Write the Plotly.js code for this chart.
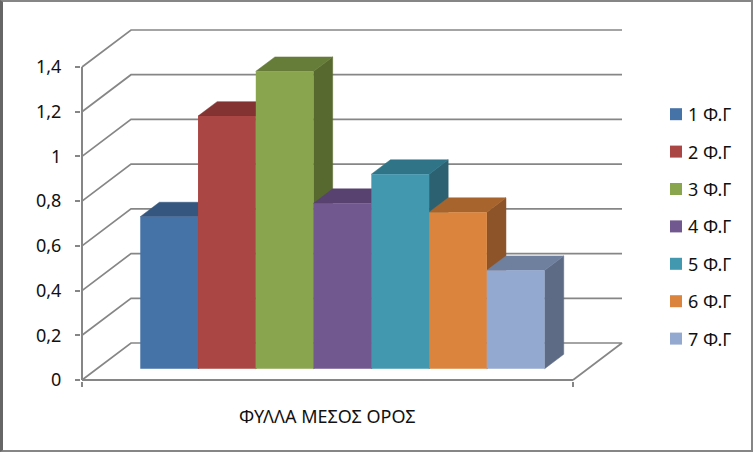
<!DOCTYPE html>
<html>
<head>
<meta charset="utf-8">
<script src="https://cdn.plot.ly/plotly-3.0.1.min.js"></script>
<style>
html,body{margin:0;padding:0;background:#fff;}
#wrap{position:relative;width:753px;height:452px;overflow:hidden;}
#chart{position:absolute;left:0;top:0;width:753px;height:452px;}
#frame{position:absolute;left:0;top:0;width:753px;height:452px;box-sizing:border-box;border:2px solid #868686;border-left:3px solid #666;pointer-events:none;}
</style>
</head>
<body>
<div id="wrap"><div id="chart"></div><div id="frame"></div></div>
<script>
const categories = ['1 Φ.Γ','2 Φ.Γ','3 Φ.Γ','4 Φ.Γ','5 Φ.Γ','6 Φ.Γ','7 Φ.Γ'];
const values = [0.68, 1.13, 1.33, 0.74, 0.87, 0.70, 0.44];
const tickValues = [0,0.2,0.4,0.6,0.8,1,1.2,1.4];
const tickLabels = ['0','0,2','0,4','0,6','0,8','1','1,2','1,4'];
const axisTitle = 'ΦΥΛΛΑ ΜΕΣΟΣ ΟΡΟΣ';
const frontColors = ['#4572A7','#AA4643','#89A54E','#71588F','#4198AF','#DB843D','#93A9CF'];
const topColors   = ['#34567F','#833331','#667C39','#58426F','#2F7487','#A7642D','#6F809E'];
const sideColors  = ['#2C4A6E','#6F2B2A','#58692F','#49375E','#2B6170','#8C5428','#5E6B85'];

const FONT = '"Noto Sans", sans-serif';
const GRID = '#868686';
const U = 57.76, V = 223.6;                    // px per x unit / per value unit
const xMax = 8.5, yMax = 1.4, gap = 0.75;
const depthX = 49/U, depthY = 37/V;            // floor depth in axis units
const d0 = 0.305, d1 = 0.695;                  // bar position in the depth
const px = (x,d)=> x + d*depthX;
const py = (v,d)=> v + d*depthY;

const traces = [];
const wall = (xs, ys, w)=>({type:'scatter',mode:'lines',x:xs,y:ys,showlegend:false,hoverinfo:'skip',
  line:{color:GRID,width:w||1.7},zorder:0});
tickValues.forEach(v=>{
  if(v===0) traces.push(wall([px(0,0),px(0,1),px(xMax,1),px(xMax,0)],[py(0,0),py(0,1),py(0,1),py(0,0)]));
  else traces.push(wall([px(0,0),px(0,1),px(xMax,1)],[py(v,0),py(v,1),py(v,1)]));
});
// axis lines
traces.push(wall([0,0],[0,yMax],2));
traces.push(wall([0,xMax],[0,0],2));
// bars: side, top, then front, painted left to right
values.forEach((v,i)=>{
  const xl = gap+i, xr = xl+1;
  const face=(xs,ys,c)=>({type:'scatter',mode:'lines',x:xs,y:ys,fill:'toself',fillcolor:c,
    line:{color:c,width:0.5},showlegend:false,hoverinfo:'skip',zorder:2*i+1});
  traces.push(face([px(xr,d0),px(xr,d0),px(xr,d1),px(xr,d1),px(xr,d0)],
                   [py(0,d0),py(v,d0),py(v,d1),py(0,d1),py(0,d0)],sideColors[i]));
  traces.push(face([px(xl,d0),px(xr,d0),px(xr,d1),px(xl,d1),px(xl,d0)],
                   [py(v,d0),py(v,d0),py(v,d1),py(v,d1),py(v,d0)],topColors[i]));
  traces.push({type:'bar',name:categories[i],x:[px(xl+0.5,d0)],y:[v],base:[py(0,d0)],width:[1],
    marker:{color:frontColors[i],line:{width:0}},legendgroup:'g'+i,zorder:2*i+2,hoverinfo:'name+y'});
});

const layout = {
  width:753,height:452,autosize:false,
  paper_bgcolor:'#fff',plot_bgcolor:'rgba(0,0,0,0)',
  font:{family:FONT,size:18,color:'#111'},
  margin:{l:81,r:129,t:28,b:71,pad:0},
  barmode:'overlay',
  showlegend:true,
  legend:{xref:'container',yref:'container',x:656/753,y:1-96/452,xanchor:'left',yanchor:'top',traceorder:'grouped',tracegroupgap:11,maxheight:420,
    font:{family:FONT,size:18,color:'#111'},bgcolor:'rgba(0,0,0,0)',borderwidth:0,itemclick:false,itemdoubleclick:false},
  xaxis:{range:[-1/U,xMax+depthX+2/U],fixedrange:true,showgrid:false,zeroline:false,showline:false,
    tickmode:'array',tickvals:[0,xMax],ticktext:['',''],ticks:'outside',ticklen:5,tickwidth:2,tickcolor:GRID},
  yaxis:{range:[-1/V,yMax+depthY+2/V],fixedrange:true,showgrid:false,zeroline:false,showline:false,
    tickmode:'array',tickvals:tickValues,ticktext:tickLabels,ticks:'outside',ticklen:5,tickwidth:2,tickcolor:GRID,
    ticklabelstandoff:10,tickfont:{family:FONT,size:18,color:'#111'}},
  annotations:[{text:axisTitle,xref:'x',yref:'paper',x:xMax/2,y:0,yanchor:'top',yshift:-21,showarrow:false,
    font:{family:FONT,size:18,color:'#111'}}]
};
Plotly.newPlot('chart',traces,layout,{displayModeBar:false,staticPlot:true}).then(()=>{
  document.querySelectorAll('.legendtext').forEach(t=>t.setAttribute('x','32'));
});
</script>
</body>
</html>
